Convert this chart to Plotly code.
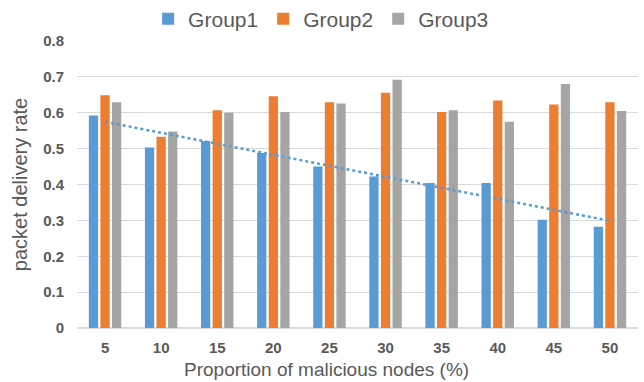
import numpy as np
import plotly.graph_objects as go

# Proportion of malicious nodes (%) and packet delivery rate per group
categories = ["5", "10", "15", "20", "25", "30", "35", "40", "45", "50"]
group1 = [0.592, 0.503, 0.521, 0.488, 0.450, 0.422, 0.404, 0.404, 0.302, 0.282]
group2 = [0.649, 0.533, 0.607, 0.646, 0.629, 0.656, 0.602, 0.634, 0.623, 0.629]
group3 = [0.629, 0.548, 0.600, 0.602, 0.626, 0.692, 0.607, 0.575, 0.680, 0.605]
y_ticks = [0, 0.1, 0.2, 0.3, 0.4, 0.5, 0.6, 0.7, 0.8]
y_tick_text = ["0", "0.1", "0.2", "0.3", "0.4", "0.5", "0.6", "0.7", "0.8"]

colors = {"Group1": "#5B9BD5", "Group2": "#ED7D31", "Group3": "#A5A5A5"}
text_color = "#595959"
font_family = "Liberation Sans, Arial, sans-serif"

# Linear trend of Group1 over category index
idx = np.arange(1, len(categories) + 1)
slope, intercept = np.polyfit(idx, group1, 1)
trend = slope * idx + intercept

fig = go.Figure()
for name, vals in (("Group1", group1), ("Group2", group2), ("Group3", group3)):
    fig.add_trace(go.Bar(x=categories, y=vals, name=name,
                         marker=dict(color=colors[name], line=dict(width=0))))

fig.add_trace(go.Scatter(x=categories, y=trend, mode="lines", showlegend=False,
                         line=dict(color="#5B9BD5", width=2.5, dash="dot"),
                         hoverinfo="skip"))

fig.update_layout(
    width=644, height=382,
    margin=dict(l=77, r=6, t=41, b=54, autoexpand=False),
    paper_bgcolor="white", plot_bgcolor="white",
    barmode="group", bargap=0.38, bargroupgap=0.2,
    font=dict(family=font_family, color=text_color),
    legend=dict(orientation="h", xref="container", yref="container",
                x=0.23, xanchor="left", y=0.95, yanchor="middle",
                font=dict(size=21, color=text_color, family=font_family),
                itemwidth=30, traceorder="normal"),
    xaxis=dict(type="category", showgrid=False, showline=True,
               linecolor="#D9D9D9", linewidth=1, ticks="", ticklabelstandoff=6,
               tickfont=dict(size=15, color=text_color, family=font_family, weight="bold")),
    yaxis=dict(range=[0, 0.8], tickvals=y_ticks, ticktext=y_tick_text,
               showgrid=True, gridcolor="#D9D9D9", gridwidth=1,
               zeroline=True, zerolinecolor="#D9D9D9", ticks="", ticklabelstandoff=12,
               tickfont=dict(size=15, color=text_color, family=font_family, weight="bold"),
               title=dict(text="packet delivery rate", standoff=10,
                          font=dict(size=20, color=text_color, family=font_family))),
    annotations=[dict(text="Proportion of malicious nodes (%)", xref="paper", yref="paper",
                      x=0.444, y=-0.143, xanchor="center", yanchor="middle",
                      showarrow=False,
                      font=dict(size=19, color=text_color, family=font_family))],
)

fig.write_html("out.html")
